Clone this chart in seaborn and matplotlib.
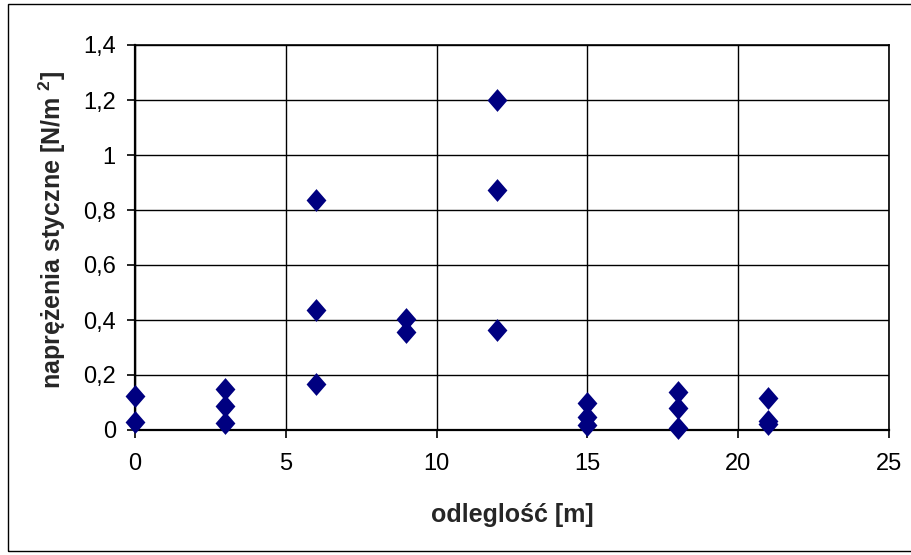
import matplotlib
matplotlib.use("Agg")
import matplotlib.pyplot as plt
import seaborn as sns
import pandas as pd
from matplotlib.patches import Rectangle

# Data
distance = [0, 0,
            3, 3, 3,
            6, 6, 6,
            9, 9,
            12, 12, 12,
            15, 15, 15,
            18, 18, 18,
            21, 21, 21]
stress = [0.03, 0.125,
          0.148, 0.087, 0.026,
          0.836, 0.437, 0.168,
          0.405, 0.358,
          1.2, 0.873, 0.364,
          0.100, 0.048, 0.018,
          0.140, 0.080, 0.007,
          0.118, 0.032, 0.022]

x_ticks = [0, 5, 10, 15, 20, 25]
y_ticks = [0, 0.2, 0.4, 0.6, 0.8, 1.0, 1.2, 1.4]
y_tick_labels = ["0", "0,2", "0,4", "0,6", "0,8", "1", "1,2", "1,4"]

df = pd.DataFrame({"odleglosc": distance, "naprezenia": stress})

sns.set_style("white")
plt.rcParams['font.family'] = ['Liberation Sans', 'DejaVu Sans']
plt.rcParams['mathtext.default'] = 'regular'

fig = plt.figure(figsize=(9.12, 5.55), dpi=100)
ax = fig.add_axes([135/912, 1 - 430/555, (889-135)/912, (430-45)/555])

diamond = [(0, 1.15), (1, 0), (0, -1.15), (-1, 0), (0, 1.15)]
sns.scatterplot(data=df, x="odleglosc", y="naprezenia", marker=diamond,
                color="#000080", s=270, linewidth=0, ax=ax, clip_on=False, zorder=5)

ax.set_xlim(0, 25)
ax.set_ylim(0, 1.4)
ax.set_xticks(x_ticks)
ax.set_xticklabels([str(t) for t in x_ticks])
ax.set_yticks(y_ticks)
ax.set_yticklabels(y_tick_labels)

ax.grid(True, color="black", linewidth=1.0)
ax.set_axisbelow(True)
for side, sp in ax.spines.items():
    sp.set_visible(True)
    sp.set_color("black")
    sp.set_linewidth(1.6 if side in ("left", "bottom") else 1.2)

ax.tick_params(axis="both", direction="out", length=5.8, width=1.2, color="black",
               labelsize=17, labelcolor="black", bottom=True, left=True)
ax.tick_params(axis="x", pad=10.5)
ax.tick_params(axis="y", pad=8)

ax.set_xlabel("odleglość [m]", fontsize=18, fontweight="bold")
ax.set_ylabel("naprężenia styczne [N/m $^{2}$]", fontsize=18, fontweight="bold")
ax.xaxis.set_label_coords(0.5, (430 - 503) / 385)
ax.yaxis.set_label_coords((68 - 135) / 754, (430 - 230) / 385)

fig.patches.append(Rectangle((8/912, 1 - 551/555), (912 - 8)/912 + 0.01, (551 - 4)/555,
                             transform=fig.transFigure, fill=False,
                             edgecolor="black", linewidth=1.0))

fig.savefig("out.png", dpi=100, facecolor="white")
